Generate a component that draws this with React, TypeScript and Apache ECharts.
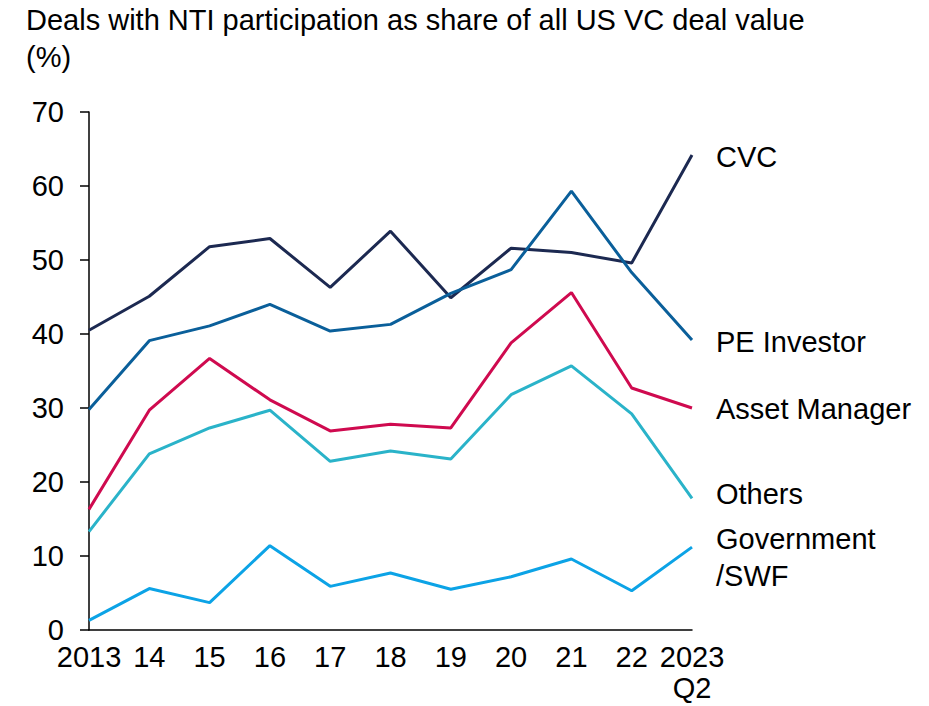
import React, { useEffect, useRef } from "react";
import * as echarts from "echarts";

const categories = ["2013", "14", "15", "16", "17", "18", "19", "20", "21", "22", "2023\nQ2"];
const cvc = [40.5, 45.1, 51.8, 52.9, 46.3, 53.9, 44.9, 51.6, 51.0, 49.6, 64.2];
const peInvestor = [29.8, 39.1, 41.1, 44.0, 40.4, 41.3, 45.5, 48.7, 59.3, 48.3, 39.2];
const assetManager = [16.3, 29.7, 36.7, 31.1, 26.9, 27.8, 27.3, 38.8, 45.6, 32.7, 30.0];
const others = [13.3, 23.8, 27.3, 29.7, 22.8, 24.2, 23.1, 31.8, 35.7, 29.2, 17.8];
const government = [1.3, 5.6, 3.7, 11.4, 5.9, 7.7, 5.5, 7.2, 9.6, 5.3, 11.2];

const FONT = "'Liberation Sans', Arial, sans-serif";
const FS = 29;

export default function App() {
  const ref = useRef<HTMLDivElement>(null);
  useEffect(() => {
    const chart = echarts.init(ref.current!, null, { renderer: "svg" });
    const mk = (name: string, data: number[], color: string, offsetY: number) => ({
      name,
      type: "line",
      data,
      symbol: "none",
      lineStyle: { color, width: 3 },
      itemStyle: { color },
      endLabel: {
        show: true,
        formatter: () => name,
        color: "#000",
        fontSize: FS,
        fontFamily: FONT,
        lineHeight: 37,
        distance: 24,
        offset: [0, offsetY],
      },
    });
    chart.setOption({
      animation: false,
      backgroundColor: "#fff",
      title: {
        text: "Deals with NTI participation as share of all US VC deal value\n(%)",
        left: 21,
        top: -4,
        textStyle: { color: "#000", fontSize: FS, fontWeight: "normal", fontFamily: FONT, lineHeight: 37 },
      },
      grid: { left: 89, right: 237, top: 112, bottom: 76, outerBoundsMode: "none", containLabel: false },
      xAxis: {
        type: "category",
        data: categories,
        boundaryGap: false,
        axisLine: { lineStyle: { color: "#000", width: 1.5 } },
        axisTick: { show: false },
        axisLabel: { color: "#000", fontSize: FS, fontFamily: FONT, margin: 11, lineHeight: 31, interval: 0 },
      },
      yAxis: {
        type: "value",
        min: 0,
        max: 70,
        interval: 10,
        splitLine: { show: false },
        axisLine: { show: true, lineStyle: { color: "#000", width: 1.5 } },
        axisTick: { show: true, length: 9, lineStyle: { color: "#000", width: 1.5 } },
        axisLabel: { color: "#000", fontSize: FS, fontFamily: FONT, margin: 25 },
      },
      series: [
        mk("CVC", cvc, "#1c2951", 2),
        mk("PE Investor", peInvestor, "#0a5f9a", 2),
        mk("Asset Manager", assetManager, "#cf0a4f", 1),
        mk("Others", others, "#2ab3c9", -4),
        mk("Government\n/SWF", government, "#0ca3e6", 10),
      ],
    });
    return () => chart.dispose();
  }, []);
  return <div ref={ref} style={{ width: 929, height: 706, position: "absolute", left: 0, top: 0 }} />;
}
